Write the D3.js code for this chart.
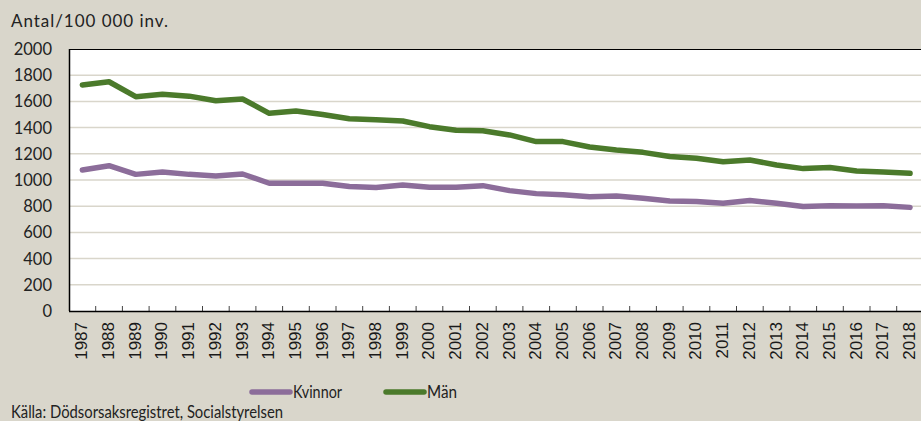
<!DOCTYPE html>
<html><head><meta charset="utf-8">
<script src="https://cdn.jsdelivr.net/npm/d3@7"></script>
<style>body{margin:0;background:#d9d6cb;}svg{display:block;}</style>
</head><body>
<script>
const years = ["1987","1988","1989","1990","1991","1992","1993","1994","1995","1996","1997","1998","1999","2000","2001","2002","2003","2004","2005","2006","2007","2008","2009","2010","2011","2012","2013","2014","2015","2016","2017","2018"];
const kvinnor = [1076,1109,1043,1061,1043,1031,1046,975,975,975,950,942,962,945,945,957,919,896,888,873,878,860,840,835,822,843,822,797,804,802,804,791];
const man = [1725,1750,1636,1654,1640,1605,1618,1509,1527,1500,1468,1460,1450,1407,1380,1376,1344,1293,1293,1252,1229,1211,1180,1166,1140,1153,1115,1087,1095,1069,1061,1051];
const yTicks = [0,200,400,600,800,1000,1200,1400,1600,1800,2000];
const seriesNames = ["Kvinnor","Män"];
const colors = ["#8c6d9a","#4b7a2b"];

const W=921,H=421;
const m={left:69,top:49,right:921,bottom:311};
const svg=d3.select("body").append("svg").attr("width",W).attr("height",H);
svg.append("rect").attr("width",W).attr("height",H).attr("fill","#d9d6cb");

const x=d3.scaleBand().domain(years).range([m.left,m.left+26.7*years.length]);
const y=d3.scaleLinear().domain([0,2000]).range([m.bottom,m.top]);
const font="Lato, 'Open Sans', sans-serif";

svg.append("rect").attr("x",m.left).attr("y",m.top).attr("width",m.right-m.left).attr("height",m.bottom-m.top).attr("fill","#fff");

// grid
svg.append("g").selectAll("line").data(yTicks.filter(d=>d>0&&d<2000)).join("line")
  .attr("x1",m.left).attr("x2",m.right).attr("y1",d=>y(d)).attr("y2",d=>y(d))
  .attr("stroke","#d9d6cb").attr("stroke-width",1.5);

// axes lines
svg.append("line").attr("x1",m.left).attr("x2",m.right).attr("y1",m.top+0.5).attr("y2",m.top+0.5).attr("stroke","#000").attr("stroke-width",1.2);
svg.append("line").attr("x1",m.left+0.5).attr("x2",m.left+0.5).attr("y1",m.top).attr("y2",m.bottom).attr("stroke","#000").attr("stroke-width",1.5);

// y labels
svg.append("g").selectAll("text").data(yTicks).join("text")
  .attr("x",52).attr("y",d=>y(d)).attr("dy","0.36em").attr("text-anchor","end")
  .attr("font-family",font).attr("font-size",16.5).attr("fill","#222")
  .text(d=>d);

// x axis
const xAxis=d3.axisBottom(x).tickSize(0).tickFormat(d=>d);
const gx=svg.append("g").attr("transform",`translate(0,${m.bottom})`).call(xAxis);
gx.select(".domain").remove();
gx.selectAll("text").attr("transform","rotate(-90)").attr("text-anchor","end")
  .attr("x",-11).attr("y",-1).attr("dy","0.35em")
  .attr("font-family","'Liberation Sans', Arial, sans-serif").attr("font-size",17).attr("fill","#1a1a1a");
// tick marks between categories
const bounds=years.map(d=>x(d)).slice(1).concat([x(years[years.length-1])+x.bandwidth()]);
svg.append("g").selectAll("line").data(bounds).join("line")
  .attr("x1",d=>d).attr("x2",d=>d).attr("y1",m.bottom-5).attr("y2",m.bottom)
  .attr("stroke","#444").attr("stroke-width",1);
svg.append("line").attr("x1",m.left).attr("x2",m.right).attr("y1",m.bottom+0.5).attr("y2",m.bottom+0.5).attr("stroke","#000").attr("stroke-width",1.5);

// lines
const line=d3.line().x((d,i)=>x(years[i])+x.bandwidth()/2).y(d=>y(d));
[kvinnor,man].forEach((s,i)=>{
  svg.append("path").datum(s).attr("d",line).attr("fill","none")
    .attr("stroke",colors[i]).attr("stroke-width",5.5).attr("stroke-linejoin","round").attr("stroke-linecap","round");
});

// title
svg.append("text").attr("x",11).attr("y",27).attr("font-family",font)
  .attr("font-size",17).attr("fill","#222").attr("textLength",157).attr("lengthAdjust","spacing").text("Antal/100 000 inv.");

// legend
const leg=[{x:250,t:seriesNames[0],c:colors[0],w:49},{x:384,t:seriesNames[1],c:colors[1],w:30}];
leg.forEach(l=>{
  svg.append("line").attr("x1",l.x+2).attr("x2",l.x+40).attr("y1",392).attr("y2",392)
    .attr("stroke",l.c).attr("stroke-width",5.5).attr("stroke-linecap","round");
  svg.append("text").attr("x",l.x+43).attr("y",398).attr("font-family",font)
    .attr("font-size",17).attr("fill","#222").attr("textLength",l.w).attr("lengthAdjust","spacingAndGlyphs").text(l.t);
});
svg.append("text").attr("x",11).attr("y",418).attr("font-family",font)
  .attr("font-size",17).attr("fill","#222").attr("textLength",272).attr("lengthAdjust","spacingAndGlyphs").text("Källa: Dödsorsaksregistret, Socialstyrelsen");
</script>
</body></html>
